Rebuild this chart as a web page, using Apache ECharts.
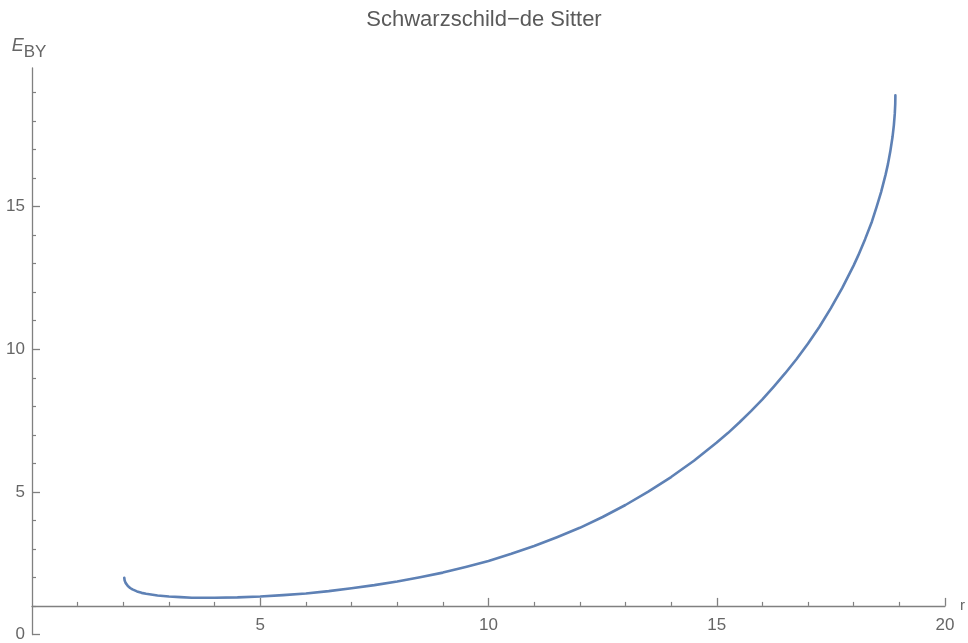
<!DOCTYPE html>
<html>
<head>
<meta charset="utf-8">
<title>Schwarzschild-de Sitter</title>
<script src="https://cdn.jsdelivr.net/npm/echarts@6/dist/echarts.min.js"></script>
<style>
  html, body { margin: 0; padding: 0; background: #fff; }
  #chart { width: 968px; height: 643px; }
</style>
</head>
<body>
<div id="chart"></div>
<script>
// Brown-York quasilocal energy between the black-hole and cosmological horizons
const rValues = [2.021, 2.03, 2.05, 2.1, 2.15, 2.2, 2.3, 2.4, 2.5, 2.75, 3, 3.25, 3.5, 3.75, 4, 4.5, 5, 5.5, 6, 6.5, 7, 7.5, 8, 8.5, 9, 9.5, 10,
  10.5, 11, 11.5, 12, 12.5, 13, 13.5, 14, 14.5, 15, 15.25, 15.5, 15.75, 16, 16.25, 16.5, 16.75, 17, 17.25, 17.5, 17.75, 18, 18.1, 18.25,
  18.4, 18.5, 18.6, 18.7, 18.75, 18.8, 18.85, 18.88, 18.9, 18.91, 18.913];
const eValues = [1.99, 1.89, 1.81, 1.70, 1.63, 1.58, 1.51, 1.46, 1.43, 1.37, 1.33, 1.31, 1.29, 1.29, 1.29, 1.30, 1.33, 1.38, 1.44, 1.52, 1.62, 1.73, 1.86, 2.01, 2.17, 2.37, 2.58,
  2.83, 3.10, 3.41, 3.74, 4.12, 4.54, 5.01, 5.52, 6.09, 6.73, 7.07, 7.44, 7.83, 8.24, 8.69, 9.16, 9.66, 10.20, 10.79, 11.44, 12.15, 12.94, 13.29, 13.86,
  14.48, 14.98, 15.51, 16.13, 16.49, 16.92, 17.44, 17.86, 18.26, 18.60, 18.9];

const xTicksMajor = [5, 10, 15, 20];
const yTicksMajor = [0, 5, 10, 15];
const yTicksMinor = [1, 2, 3, 4, 6, 7, 8, 9, 11, 12, 13, 14, 16, 17, 18, 19];

const xMin = 0, xMax = 20;
const yMin = 0, yMax = 19.86;
const xAxisCross = 1; // the r axis crosses the E axis at E = 1

const gridTop = 68, gridBottom = 7, chartHeight = 643;
const plotHeight = chartHeight - gridTop - gridBottom;
const xAxisShift = (xAxisCross - yMin) / (yMax - yMin) * plotHeight;

const font = "'Liberation Sans', Arial, sans-serif";
const axisColor = '#808080';
const textColor = '#666666';

const points = rValues.map((r, i) => [r, eValues[i]]);

const chart = echarts.init(document.getElementById('chart'), null, { renderer: 'canvas' });
chart.setOption({
  backgroundColor: '#ffffff',
  animation: false,
  title: {
    text: 'Schwarzschild\u2212de Sitter',
    left: 'center',
    top: 4,
    textStyle: { fontFamily: font, fontSize: 22, fontWeight: 'normal', color: '#5a5a5a' }
  },
  grid: { left: 32, right: 19, top: gridTop, bottom: gridBottom, containLabel: false },
  xAxis: {
    type: 'value',
    min: xMin,
    max: xMax,
    interval: 5,
    position: 'bottom',
    offset: -xAxisShift,
    name: 'r',
    nameLocation: 'end',
    nameGap: 15,
    nameTextStyle: { fontFamily: font, fontSize: 15, color: textColor, verticalAlign: 'middle', align: 'left', padding: [4, 0, 0, 0] },
    axisLine: { show: true, onZero: false, lineStyle: { color: axisColor, width: 1.3 } },
    axisTick: { show: true, inside: true, length: 8, lineStyle: { color: axisColor, width: 1.3 }, customValues: xTicksMajor },
    minorTick: { show: true, splitNumber: 5, length: 4, lineStyle: { color: axisColor, width: 1.2 } },
    axisLabel: { show: true, margin: 11, fontFamily: font, fontSize: 17, color: textColor, customValues: xTicksMajor },
    splitLine: { show: false },
    minorSplitLine: { show: false }
  },
  yAxis: [{
    type: 'value',
    min: yMin,
    max: yMax,
    position: 'left',
    name: '{e|E}{s|BY}',
    nameLocation: 'end',
    nameGap: 7,
    nameTextStyle: {
      fontFamily: font, color: textColor, align: 'center', padding: [0, 6, 0, 0],
      rich: {
        e: { fontFamily: font, fontSize: 18, fontStyle: 'italic', color: textColor, verticalAlign: 'top', lineHeight: 24 },
        s: { fontFamily: font, fontSize: 17, color: textColor, verticalAlign: 'bottom', lineHeight: 24, padding: [6, 0, 0, 0] }
      }
    },
    axisLine: { show: true, onZero: false, lineStyle: { color: axisColor, width: 1.3 } },
    axisTick: { show: true, inside: true, length: 8, lineStyle: { color: axisColor, width: 1.3 }, customValues: yTicksMajor },
    axisLabel: { show: true, margin: 7, fontFamily: font, fontSize: 17, color: textColor, customValues: yTicksMajor },
    splitLine: { show: false }
  }, {
    type: 'value',
    min: yMin,
    max: yMax,
    position: 'left',
    offset: 0,
    axisLine: { show: false },
    axisTick: { show: true, inside: true, length: 4, lineStyle: { color: axisColor, width: 1.2 }, customValues: yTicksMinor },
    axisLabel: { show: false },
    splitLine: { show: false }
  }],
  series: [{
    type: 'line',
    data: points,
    showSymbol: false,
    smooth: false,
    clip: false,
    lineStyle: { color: '#5E81B5', width: 2.6, join: 'round', cap: 'round' }
  }]
});
</script>
</body>
</html>
